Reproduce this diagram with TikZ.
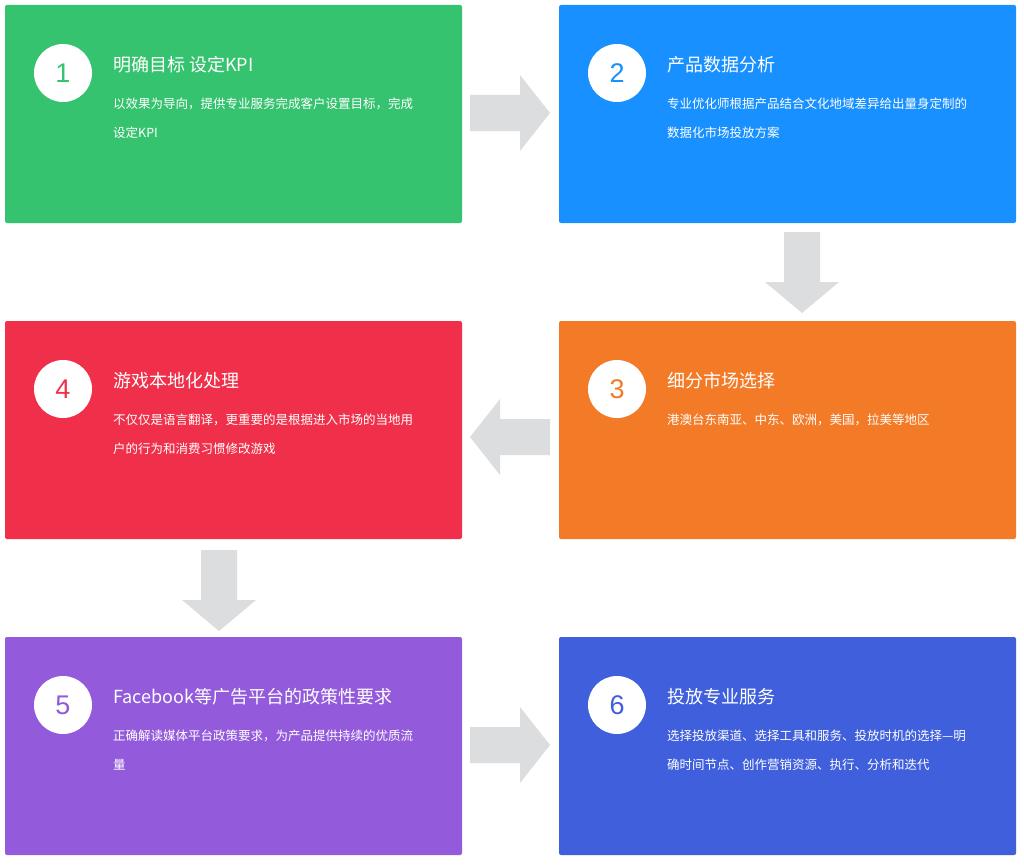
\documentclass[tikz,border=0pt]{standalone}
\usepackage{fontspec}
\setmainfont{Noto Sans CJK SC}
\newfontfamily\numfont{Liberation Sans}
\begin{document}
\begin{tikzpicture}[x=1pt,y=-1pt,
  card/.style={rounded corners=2pt,draw=none},
  num/.style={circle,fill=white,minimum size=58pt,inner sep=0pt,font=\numfont\fontsize{27}{27}\selectfont},
  ttl/.style={anchor=west,text=white,inner sep=0pt,font=\fontsize{18}{20}\selectfont},
  bdy/.style={anchor=north west,text=white,inner sep=0pt,align=left,font=\fontsize{12.5}{29}\selectfont},
  arr/.style={fill=arrgray,draw=none}]
\definecolor{cA}{HTML}{36C36F}\definecolor{cB}{HTML}{1890FF}
\definecolor{cC}{HTML}{F37B27}\definecolor{cD}{HTML}{F0304A}
\definecolor{cE}{HTML}{935ADB}\definecolor{cF}{HTML}{3F5FDC}
\definecolor{arrgray}{HTML}{DCDDDE}
\useasboundingbox (0,0) rectangle (1024,864);
\fill[white] (0,0) rectangle (1024,864);
% cards
\foreach \n/\x/\y/\c in {1/5/5/cA,2/559/5/cB,4/5/321/cD,3/559/321/cC,5/5/637/cE,6/559/637/cF}{
  \fill[card,\c] (\x,\y) rectangle ++(457,218);
  \node[num,text=\c] (n\n) at (\x+58,\y+68) {\n};
}
\node[ttl] (t1) at (113,65) {明确目标 设定KPI};
\node[bdy] (b1) at (113,98) {以效果为导向，提供专业服务完成客户设置目标，完成\\设定KPI};
\node[ttl] (t2) at (667,65) {产品数据分析};
\node[bdy] (b2) at (667,98) {专业优化师根据产品结合文化地域差异给出量身定制的\\数据化市场投放方案};
\node[ttl] (t4) at (113,381) {游戏本地化处理};
\node[bdy] (b4) at (113,414) {不仅仅是语言翻译，更重要的是根据进入市场的当地用\\户的行为和消费习惯修改游戏};
\node[ttl] (t3) at (667,381) {细分市场选择};
\node[bdy] (b3) at (667,414) {港澳台东南亚、中东、欧洲，美国，拉美等地区};
\node[ttl] (t5) at (113,697) {Facebook等广告平台的政策性要求};
\node[bdy] (b5) at (113,730) {正确解读媒体平台政策要求，为产品提供持续的优质流\\量};
\node[ttl] (t6) at (667,697) {投放专业服务};
\node[bdy] (b6) at (667,730) {选择投放渠道、选择工具和服务、投放时机的选择—明\\确时间节点、创作营销资源、执行、分析和迭代};
% arrows
\fill[arr] (470,95) -- (520,95) -- (520,75) -- (550,113) -- (520,151) -- (520,131) -- (470,131) -- cycle;
\fill[arr] (470,727) -- (520,727) -- (520,707) -- (550,745) -- (520,783) -- (520,763) -- (470,763) -- cycle;
\fill[arr] (550,419) -- (500,419) -- (500,399) -- (470,437) -- (500,475) -- (500,455) -- (550,455) -- cycle;
\fill[arr] (784,232) -- (784,282) -- (765,282) -- (802,313) -- (839,282) -- (820,282) -- (820,232) -- cycle;
\fill[arr] (201,550) -- (201,600) -- (182,600) -- (219,631) -- (256,600) -- (237,600) -- (237,550) -- cycle;
\end{tikzpicture}
\end{document}
